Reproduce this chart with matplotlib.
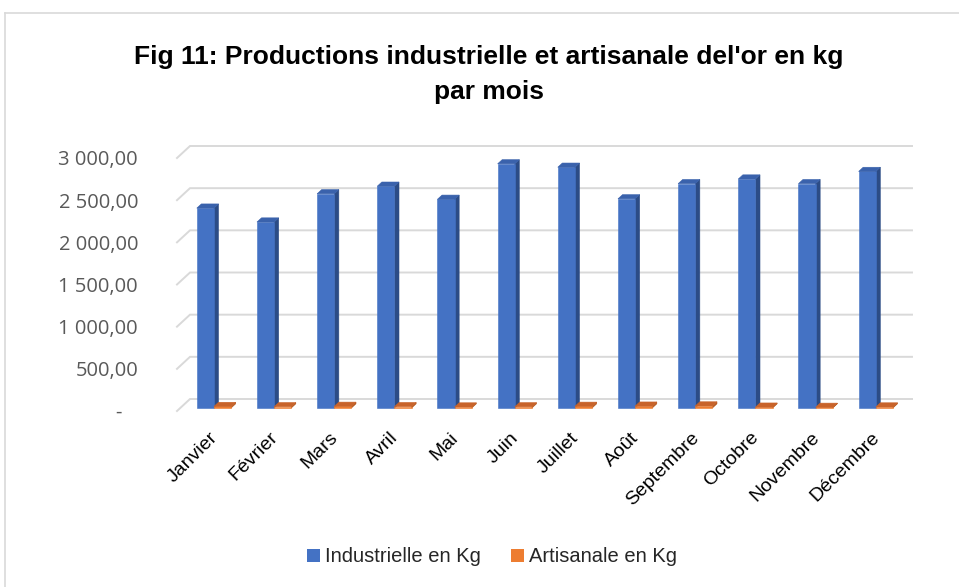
import matplotlib
matplotlib.use('Agg')
import matplotlib.pyplot as plt
from matplotlib.patches import Polygon, Patch
from matplotlib.lines import Line2D

months = ['Janvier', 'Février', 'Mars', 'Avril', 'Mai', 'Juin', 'Juillet',
          'Août', 'Septembre', 'Octobre', 'Novembre', 'Décembre']
industrielle = [2370, 2205, 2540, 2630, 2475, 2895, 2855, 2480, 2660, 2715, 2660, 2805]
artisanale = [18, 15, 20, 16, 12, 14, 20, 22, 24, 10, 8, 12]
yticks = [0, 500, 1000, 1500, 2000, 2500, 3000]
series_names = ['Industrielle en Kg', 'Artisanale en Kg']


def ytick_label(v):
    if v == 0:
        return '-   '
    s = f'{v:,.2f}'
    return s.replace(',', ' ').replace('.', ',')


W, H = 959, 587
fig = plt.figure(figsize=(W / 100, H / 100), dpi=100)

# plot box in pixels (front plane left/bottom, back wall right/top)
left_px, right_px, top_px, bottom_px = 177, 912, 146, 411
ax = fig.add_axes([left_px / W, 1 - bottom_px / H,
                   (right_px - left_px) / W, (bottom_px - top_px) / H])

ppu_y = 253 / 3000          # pixels per kg on the front plane
ppu_x = 722 / 12            # pixels per category
ax.set_ylim(0, (bottom_px - top_px) / ppu_y)
ax.set_xlim(-0.5, -0.5 + (right_px - left_px) / ppu_x)
DXu = 13 / ppu_x
DYu = 12 / ppu_y


def proj(x, v, d):
    # d = 0 front plane, d = 1 back wall
    return (x + d * DXu, v + d * DYu)


# back wall grid + left side diagonals
for v in yticks:
    pts = [proj(-0.5, v, 0), proj(-0.5, v, 1), proj(11.5, v, 1)]
    ax.plot([p[0] for p in pts], [p[1] for p in pts], color='#D9D9D9',
            lw=1.4, zorder=1, clip_on=False, solid_joinstyle='miter')

d_front, d_back = 0.25, 0.6
bw = 0.285
shift = 0.06


def draw_bar(x0, x1, v, front, side, top):
    f = [proj(x0, 0, d_front), proj(x1, 0, d_front), proj(x1, v, d_front), proj(x0, v, d_front)]
    s = [proj(x1, 0, d_front), proj(x1, 0, d_back), proj(x1, v, d_back), proj(x1, v, d_front)]
    t = [proj(x0, v, d_front), proj(x1, v, d_front), proj(x1, v, d_back), proj(x0, v, d_back)]
    for poly, col in ((s, side), (f, front), (t, top)):
        ax.add_patch(Polygon(poly, closed=True, facecolor=col, edgecolor=col,
                             lw=0.4, zorder=3, clip_on=False))


for i in range(len(months)):
    c = i + shift
    draw_bar(c - bw, c, industrielle[i], '#4472C4', '#2C4C86', '#3A62AC')
    draw_bar(c, c + bw, artisanale[i], '#ED7D31', '#B4561B', '#C8632A')

ax.set_yticks(yticks)
ax.set_yticklabels([ytick_label(v) for v in yticks], color='#595959',
                   fontsize=14.5, family='Open Sans')
ax.tick_params(axis='y', length=0, pad=28)

ax.set_xticks([i + 0.03 for i in range(len(months))])
ax.set_xticklabels(months, rotation=45, ha='right', rotation_mode='anchor',
                   fontsize=14, family='Liberation Sans', color='#000000')
ax.tick_params(axis='x', length=0, pad=13)

for sp in ax.spines.values():
    sp.set_visible(False)
ax.patch.set_alpha(0)

fig.text(489 / W, 1 - 57 / H, "Fig 11: Productions industrielle et artisanale del'or en kg",
         ha='center', va='center', fontsize=19, fontweight='bold', family='Liberation Sans', color='#000000')
fig.text(489 / W, 1 - 92 / H, 'par mois',
         ha='center', va='center', fontsize=19, fontweight='bold', family='Liberation Sans', color='#000000')

handles = [Patch(facecolor='#4472C4'), Patch(facecolor='#ED7D31')]
fig.legend(handles, series_names, loc='center', bbox_to_anchor=(492 / W, 1 - 557 / H),
           ncol=2, frameon=False, handlelength=0.65, handleheight=0.65, handletextpad=0.25,
           columnspacing=1.5, prop={'family': 'Liberation Sans', 'size': 14.5}, labelcolor='#262626')

# chart frame
fig.add_artist(Line2D([5 / W, 5 / W], [0, 1 - 13 / H], transform=fig.transFigure, color='#D9D9D9', lw=1.2))
fig.add_artist(Line2D([5 / W, 1], [1 - 13 / H, 1 - 13 / H], transform=fig.transFigure, color='#D9D9D9', lw=1.2))

fig.savefig('out.png', dpi=100)
